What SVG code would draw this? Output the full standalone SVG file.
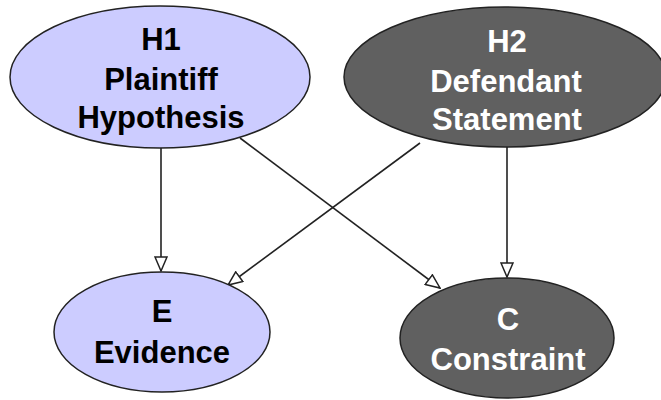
<svg xmlns="http://www.w3.org/2000/svg" width="661" height="400" viewBox="0 0 661 400">
  <style>
    .light { fill: #ccccff; stroke: #222; stroke-width: 1.5; }
    .dark { fill: #606060; stroke: #222; stroke-width: 1.5; }
    text { font-family: "Liberation Sans", Arial, sans-serif; font-size: 31px; font-weight: bold; text-anchor: middle; }
    .tl { fill: #000; }
    .td { fill: #fff; }
    .edge { stroke: #222; stroke-width: 1.6; fill: none; marker-end: url(#arrow); }
  </style>
  <defs>
    <marker id="arrow" viewBox="0 0 16 14" refX="15" refY="7" markerWidth="16" markerHeight="14" markerUnits="userSpaceOnUse" orient="auto">
      <path d="M1,1 L15,7 L1,13 Z" fill="#fff" stroke="#222" stroke-width="1.5"/>
    </marker>
  </defs>
  <rect width="661" height="400" fill="#fff"/>

  <g id="connectors">
    <line class="edge" x1="161" y1="148" x2="161" y2="271"/>
    <line class="edge" x1="507" y1="147" x2="507" y2="277"/>
    <line class="edge" x1="420" y1="143" x2="228" y2="285"/>
    <line class="edge" x1="240" y1="138" x2="440" y2="288"/>
  </g>

  <g id="H1">
    <ellipse class="light" cx="160" cy="77" rx="150" ry="71"/>
    <text class="tl" x="161" y="50">H1</text>
    <text class="tl" x="161" y="90">Plaintiff</text>
    <text class="tl" x="161" y="128">Hypothesis</text>
  </g>

  <g id="H2">
    <ellipse class="dark" cx="505" cy="77" rx="161" ry="70"/>
    <text class="td" x="507" y="52">H2</text>
    <text class="td" x="506" y="92">Defendant</text>
    <text class="td" x="507" y="130">Statement</text>
  </g>

  <g id="E">
    <ellipse class="light" cx="162" cy="332" rx="108" ry="60"/>
    <text class="tl" x="162" y="322">E</text>
    <text class="tl" x="162" y="363">Evidence</text>
  </g>

  <g id="C">
    <ellipse class="dark" cx="507" cy="338" rx="107" ry="60"/>
    <text class="td" x="508" y="330">C</text>
    <text class="td" x="508" y="370">Constraint</text>
  </g>
</svg>
